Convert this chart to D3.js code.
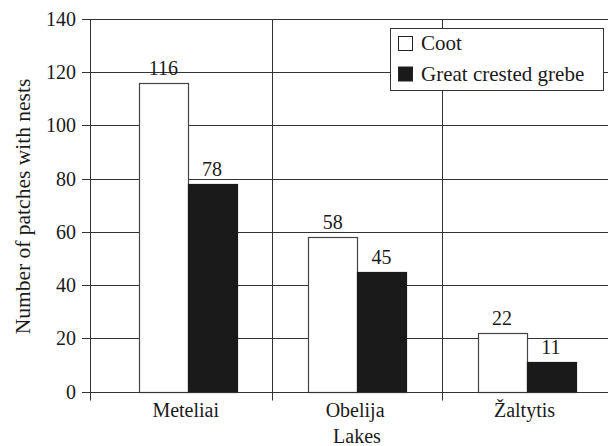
<!DOCTYPE html>
<html>
<head>
<meta charset="utf-8">
<script src="https://cdn.jsdelivr.net/npm/d3@7"></script>
<style>
  html, body { margin: 0; padding: 0; background: #fff; }
  svg { display: block; }
</style>
</head>
<body>
<svg id="chart" width="608" height="446"></svg>
<script>
const lakes = ["Meteliai", "Obelija", "Žaltytis"];
const seriesNames = ["Coot", "Great crested grebe"];
const cootValues = [116, 58, 22];
const grebeValues = [78, 45, 11];
const yTicks = [0, 20, 40, 60, 80, 100, 120, 140];
const xTitle = "Lakes";
const yTitle = "Number of patches with nests";

const seriesValues = [cootValues, grebeValues];
const fills = ["#ffffff", "#1a1a1a"];
const lineColor = "#333";
const FONT = "'Liberation Serif', serif";

const svg = d3.select("#chart");
const txt = (sel, size) => sel.attr("font-family", FONT).attr("fill", "#1a1a1a").attr("font-size", size || 20);
const axisX = 90;
const y = d3.scaleLinear().domain([0, 140]).range([391.5, 19]);
const x0 = d3.scaleBand().domain(lakes).range([103, 611.2]).paddingInner(0).paddingOuter(0);
const x1 = d3.scaleBand().domain(seriesNames).range([0, x0.bandwidth()]).paddingInner(0).paddingOuter(0.734);
const right = 608;
const crisp = v => Math.round(v) + 0.5;

const g = svg.append("g");
yTicks.forEach(t => {
  const yy = crisp(y(t));
  g.append("line").attr("x1", axisX - 8).attr("x2", right).attr("y1", yy).attr("y2", yy)
    .attr("stroke", lineColor).attr("stroke-width", 1);
  g.append("text").attr("x", axisX - 14).attr("y", yy).attr("dy", "0.34em")
    .attr("text-anchor", "end").call(txt, 20).text(t);
});

const vLines = [axisX].concat(lakes.slice(1).map(l => x0(l)));
vLines.forEach(xv => {
  const xx = crisp(xv);
  g.append("line").attr("x1", xx).attr("x2", xx).attr("y1", crisp(y(140))).attr("y2", crisp(y(0)) + 8)
    .attr("stroke", lineColor).attr("stroke-width", 1);
});

lakes.forEach((lake, i) => {
  seriesNames.forEach((s, j) => {
    const v = seriesValues[j][i];
    const bx = x0(lake) + x1(s);
    const bw = x1.bandwidth();
    svg.append("rect")
      .attr("x", Math.round(bx) + 0.5).attr("y", Math.round(y(v)) + 0.5)
      .attr("width", Math.round(bw)).attr("height", Math.round(y(0)) - Math.round(y(v)))
      .attr("fill", fills[j]).attr("stroke", j === 0 ? "#444" : "#1a1a1a").attr("stroke-width", 1.2);
    svg.append("text").attr("x", bx + bw / 2).attr("y", y(v) - 8)
      .attr("text-anchor", "middle").call(txt, 20).text(v);
  });
  svg.append("text").attr("x", x0(lake) + x0.bandwidth() / 2 - 2).attr("y", 417)
    .attr("text-anchor", "middle").call(txt, 20).text(lake);
});

svg.append("line").attr("x1", axisX - 8).attr("x2", right).attr("y1", crisp(y(0))).attr("y2", crisp(y(0)))
  .attr("stroke", lineColor).attr("stroke-width", 1.2);

svg.append("text").attr("x", 357).attr("y", 443).attr("text-anchor", "middle")
  .call(txt, 20).text(xTitle);
svg.append("text").attr("transform", `translate(30, 206.5) rotate(-90)`)
  .attr("text-anchor", "middle").call(txt, 21.5).text(yTitle);

const lg = svg.append("g");
lg.append("rect").attr("x", 390.5).attr("y", 28.5).attr("width", 213).attr("height", 62)
  .attr("fill", "#fff").attr("stroke", lineColor).attr("stroke-width", 1);
seriesNames.forEach((s, j) => {
  const top = 36.5 + j * 30.5;
  lg.append("rect").attr("x", 398.5).attr("y", top).attr("width", 14).attr("height", 14)
    .attr("fill", fills[j]).attr("stroke", "#222").attr("stroke-width", 1);
  lg.append("text").attr("x", 421).attr("y", top + 13.5).call(txt, 21).text(s);
});
</script>
</body>
</html>
